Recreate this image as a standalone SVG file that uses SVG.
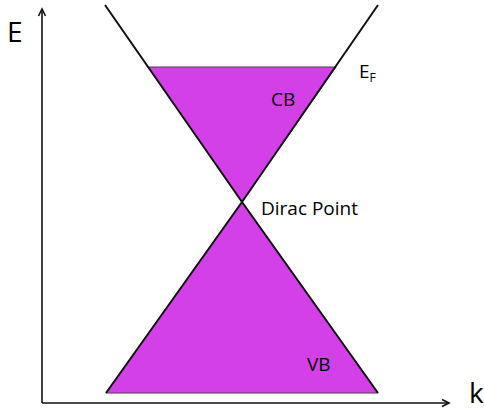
<svg xmlns="http://www.w3.org/2000/svg" width="484" height="410" viewBox="0 0 484 410">
<style>
.band{fill:#D440E8;stroke:#444;stroke-width:1;stroke-linejoin:miter}
.disp{fill:none;stroke:#111;stroke-width:2}
.axis{fill:none;stroke:#111;stroke-width:1.6}
text{font-family:"Open Sans","Liberation Sans",sans-serif;fill:#000}
.lbl{font-size:19px}
.big{font-size:28px}
</style>
<defs>
<marker id="arr" markerWidth="10" markerHeight="10" refX="8" refY="5" orient="auto" markerUnits="userSpaceOnUse">
<path d="M1,1.5 L8,5 L1,8.5" fill="none" stroke="#111" stroke-width="1.6"/>
</marker>
</defs>
<g id="axes" class="connectors">
<line class="axis" x1="42" y1="403" x2="42" y2="9" marker-end="url(#arr)"/>
<line class="axis" x1="42" y1="403" x2="449" y2="403" marker-end="url(#arr)"/>
</g>
<g id="cb">
<polygon class="band" points="148,67 336,67 242,202"/>
<text class="lbl" x="271" y="106">CB</text>
</g>
<g id="vb">
<polygon class="band" points="242,202 106,393 378,393"/>
<text class="lbl" x="307" y="371">VB</text>
</g>
<g id="dispersion">
<polyline class="disp" points="105,5 242,202 378,393"/>
<polyline class="disp" points="378,5 242,202 106,393"/>
</g>
<g id="labels">
<text class="big" x="7" y="42">E</text>
<text class="big" x="469" y="403">k</text>
<text class="lbl" x="359" y="78">E<tspan font-size="12" dy="4">F</tspan></text>
<text class="lbl" x="261" y="215">Dirac Point</text>
</g>
</svg>
